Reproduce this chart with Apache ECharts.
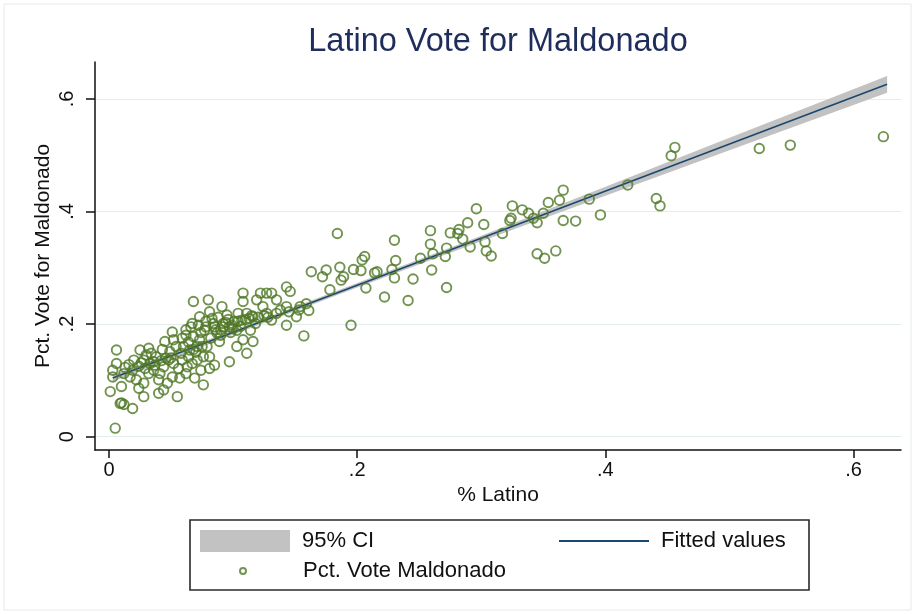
<!DOCTYPE html>
<html>
<head>
<meta charset="utf-8">
<script src="https://cdn.jsdelivr.net/npm/echarts@6/dist/echarts.min.js"></script>
<style>
  html, body { margin: 0; padding: 0; background: #ffffff; }
  #chart { width: 915px; height: 614px; }
</style>
</head>
<body>
<div id="chart"></div>
<script>
// Share of Latino residents (x) and share of the vote for Maldonado (y), one pair per precinct
const latinoShare = [
  0.005, 0.001, 0.006, 0.010, 0.012, 0.009, 0.019, 0.010, 0.003, 0.003,
  0.006, 0.013, 0.020, 0.017, 0.012, 0.022, 0.025, 0.032, 0.034, 0.028,
  0.029, 0.033, 0.037, 0.036, 0.032, 0.028, 0.024, 0.028, 0.040, 0.040,
  0.044, 0.041, 0.044, 0.045, 0.051, 0.052, 0.049, 0.048, 0.052, 0.056,
  0.051, 0.057, 0.059, 0.060, 0.059, 0.065, 0.064, 0.063, 0.067, 0.055,
  0.069, 0.076, 0.071, 0.071, 0.073, 0.068, 0.067, 0.068, 0.073, 0.077,
  0.079, 0.081, 0.076, 0.080, 0.081, 0.084, 0.087, 0.085, 0.081, 0.091,
  0.092, 0.089, 0.097, 0.095, 0.097, 0.103, 0.107, 0.108, 0.108, 0.104,
  0.111, 0.116, 0.118, 0.114, 0.108, 0.111, 0.103, 0.116, 0.124, 0.127,
  0.131, 0.127, 0.135, 0.143, 0.146, 0.131, 0.135, 0.143, 0.143, 0.151,
  0.153, 0.119, 0.122,
  0.085, 0.090, 0.094, 0.099, 0.101, 0.113, 0.120, 0.074, 0.078, 0.088,
  0.064, 0.058, 0.046, 0.038, 0.030, 0.016, 0.024, 0.043, 0.062, 0.070,
  0.098, 0.106, 0.125, 0.062, 0.074, 0.047,
  0.062, 0.066, 0.072, 0.078, 0.083, 0.086, 0.092, 0.096, 0.100, 0.104,
  0.110, 0.115, 0.054, 0.050, 0.042, 0.036, 0.026, 0.019, 0.068, 0.075,
  0.082, 0.090, 0.128, 0.138, 0.145,
  0.366, 0.354, 0.363, 0.387, 0.396, 0.376, 0.366, 0.350, 0.345, 0.342,
  0.338, 0.333, 0.325, 0.324, 0.323, 0.317, 0.302, 0.296, 0.289, 0.282,
  0.285, 0.275, 0.281, 0.291, 0.303, 0.304, 0.308, 0.345, 0.351, 0.360,
  0.272, 0.271, 0.261, 0.259, 0.259, 0.251, 0.260, 0.272, 0.245, 0.241,
  0.230, 0.231, 0.228, 0.230, 0.222, 0.216, 0.214, 0.207, 0.206, 0.204,
  0.203, 0.197, 0.186, 0.189, 0.187, 0.175, 0.172, 0.163, 0.178, 0.184,
  0.195, 0.157, 0.159, 0.161, 0.154,
  0.624, 0.549, 0.524, 0.456, 0.453, 0.418, 0.441, 0.444
];
const voteShare = [
  0.015, 0.080, 0.154, 0.060, 0.057, 0.059, 0.050, 0.089, 0.106, 0.118,
  0.130, 0.123, 0.136, 0.106, 0.112, 0.101, 0.154, 0.157, 0.148, 0.136,
  0.121, 0.130, 0.127, 0.118, 0.112, 0.095, 0.086, 0.071, 0.101, 0.077,
  0.083, 0.112, 0.124, 0.169, 0.186, 0.172, 0.151, 0.136, 0.130, 0.121,
  0.106, 0.104, 0.136, 0.160, 0.175, 0.154, 0.142, 0.124, 0.130, 0.071,
  0.104, 0.092, 0.136, 0.160, 0.172, 0.178, 0.201, 0.240, 0.213, 0.189,
  0.160, 0.142, 0.142, 0.243, 0.222, 0.201, 0.184, 0.127, 0.121, 0.231,
  0.201, 0.169, 0.195, 0.216, 0.133, 0.189, 0.207, 0.255, 0.240, 0.219,
  0.219, 0.213, 0.201, 0.189, 0.172, 0.148, 0.160, 0.169, 0.231, 0.219,
  0.255, 0.255, 0.243, 0.266, 0.258, 0.207, 0.219, 0.198, 0.231, 0.213,
  0.225, 0.243, 0.255,
  0.195, 0.190, 0.203, 0.198, 0.205, 0.210, 0.212, 0.185, 0.205, 0.212,
  0.168, 0.148, 0.140, 0.142, 0.145, 0.128, 0.125, 0.155, 0.190, 0.150,
  0.185, 0.196, 0.215, 0.112, 0.118, 0.095,
  0.180, 0.195, 0.198, 0.195, 0.210, 0.190, 0.195, 0.208, 0.192, 0.205,
  0.208, 0.215, 0.160, 0.140, 0.135, 0.133, 0.131, 0.118, 0.155, 0.160,
  0.175, 0.180, 0.212, 0.225, 0.222,
  0.438, 0.416, 0.420, 0.422, 0.394, 0.383, 0.384, 0.397, 0.380, 0.388,
  0.397, 0.403, 0.410, 0.388, 0.384, 0.361, 0.377, 0.405, 0.380, 0.368,
  0.351, 0.362, 0.361, 0.337, 0.346, 0.330, 0.321, 0.325, 0.317, 0.330,
  0.335, 0.320, 0.325, 0.366, 0.342, 0.317, 0.296, 0.265, 0.280, 0.242,
  0.349, 0.313, 0.297, 0.282, 0.248, 0.293, 0.291, 0.264, 0.320, 0.314,
  0.295, 0.297, 0.301, 0.284, 0.278, 0.296, 0.284, 0.293, 0.261, 0.361,
  0.198, 0.179, 0.236, 0.224, 0.231,
  0.533, 0.518, 0.512, 0.514, 0.499, 0.447, 0.423, 0.410
];

// Linear fit and its 95% confidence band
const fitX = [0.003, 0.627];
const fitY = [0.104, 0.626];
const ciX  = [0.003, 0.100, 0.200, 0.300, 0.400, 0.500, 0.627];
const ciLo = [0.098, 0.181, 0.265, 0.347, 0.428, 0.509, 0.611];
const ciHi = [0.110, 0.189, 0.273, 0.357, 0.444, 0.531, 0.641];

// Axis ticks
const xTicks = [0, 0.2, 0.4, 0.6];
const yTicks = [0, 0.2, 0.4, 0.6];

const FONT = '"Liberation Sans", Arial, sans-serif';
const GREEN = '#4f7826';
const NAVY = '#1a476f';
const tickText = v => (v === 0 ? '0' : String(+v.toFixed(2)).replace(/^0/, ''));

const chart = echarts.init(document.getElementById('chart'), null, { renderer: 'canvas' });

const ciRows = ciX.map((x, i) => [x, ciLo[i], ciHi[i]]);

chart.setOption({
  animation: false,
  backgroundColor: '#ffffff',
  title: {
    text: 'Latino Vote for Maldonado',
    left: 493,
    top: 21,
    textAlign: 'center',
    textStyle: { fontFamily: FONT, fontSize: 32.5, fontWeight: 'normal', color: '#1f2d5c' }
  },
  grid: { left: 95, top: 62, right: 14, bottom: 164, containLabel: false },
  xAxis: {
    type: 'value',
    min: -0.0113,
    max: 0.6382,
    name: '% Latino',
    nameLocation: 'middle',
    nameGap: 33,
    nameTextStyle: { fontFamily: FONT, fontSize: 21, color: '#111' },
    axisLine: { show: true, onZero: false, lineStyle: { color: '#111', width: 1.5 } },
    axisTick: { show: true, length: 8, customValues: xTicks, lineStyle: { color: '#111', width: 1.5 } },
    axisLabel: { customValues: xTicks, formatter: tickText, margin: 10,
      fontFamily: FONT, fontSize: 20, color: '#111' },
    splitLine: { show: false }
  },
  yAxis: {
    type: 'value',
    min: -0.0238,
    max: 0.6657,
    name: 'Pct. Vote for Maldonado',
    nameLocation: 'middle',
    nameGap: 41,
    nameRotate: 90,
    nameMoveOverlap: false,
    nameTextStyle: { fontFamily: FONT, fontSize: 21, color: '#111' },
    axisLine: { show: true, onZero: false, lineStyle: { color: '#111', width: 1.5 } },
    axisTick: { show: true, length: 9, customValues: yTicks, lineStyle: { color: '#111', width: 1.5 } },
    axisLabel: { customValues: yTicks, formatter: tickText, rotate: 90, margin: 18,
      fontFamily: FONT, fontSize: 20, color: '#111' },
    splitLine: { show: true, lineStyle: { color: '#e3edf0', width: 1 } }
  },
  legend: [
    {
      data: ['95% CI'], left: 200, top: 530, padding: 0,
      itemWidth: 90, itemHeight: 22, icon: 'rect',
      textStyle: { fontFamily: FONT, fontSize: 22, color: '#111', padding: [0, 0, 0, 7] }
    },
    {
      data: ['Fitted values'], left: 559, top: 530, padding: 0,
      itemWidth: 90, itemHeight: 2, icon: 'rect',
      itemStyle: { color: NAVY },
      textStyle: { fontFamily: FONT, fontSize: 22, color: '#111', padding: [0, 0, 0, 7] }
    },
    {
      data: ['Pct. Vote Maldonado'], left: 239, top: 560, padding: 0,
      itemWidth: 84, itemHeight: 6, icon: 'circle',
      textStyle: { fontFamily: FONT, fontSize: 22, color: '#111', padding: [0, 0, 0, 13] }
    }
  ],
  graphic: [
    {
      type: 'rect', silent: true, z: -1,
      shape: { x: 4, y: 4, width: 907, height: 606 },
      style: { fill: 'none', stroke: '#e4eaee', lineWidth: 1 }
    },
    {
      type: 'rect', silent: true,
      shape: { x: 190, y: 520, width: 619, height: 70 },
      style: { fill: 'none', stroke: '#2a2a2a', lineWidth: 1.6 }
    }
  ],
  series: [
    {
      name: '95% CI',
      type: 'custom',
      clip: true,
      z: 1,
      itemStyle: { color: '#c2c2c2' },
      data: ciRows,
      encode: { x: 0, y: [1, 2] },
      renderItem: function (params, api) {
        if (params.dataIndex !== 0) return null;
        const upper = ciRows.map(r => api.coord([r[0], r[2]]));
        const lower = ciRows.map(r => api.coord([r[0], r[1]])).reverse();
        return {
          type: 'polygon',
          shape: { points: upper.concat(lower) },
          style: { fill: '#c2c2c2', stroke: 'none' }
        };
      }
    },
    {
      name: 'Fitted values',
      type: 'line',
      z: 2,
      symbol: 'none',
      color: NAVY,
      lineStyle: { color: NAVY, width: 1.6 },
      data: fitX.map((x, i) => [x, fitY[i]])
    },
    {
      name: 'Pct. Vote Maldonado',
      type: 'scatter',
      z: 3,
      symbol: 'circle',
      symbolSize: 9.5,
      itemStyle: { color: 'rgba(0,0,0,0)', borderColor: GREEN, borderWidth: 1.9 },
      data: latinoShare.map((x, i) => [x, voteShare[i]])
    }
  ]
});
</script>
</body>
</html>
